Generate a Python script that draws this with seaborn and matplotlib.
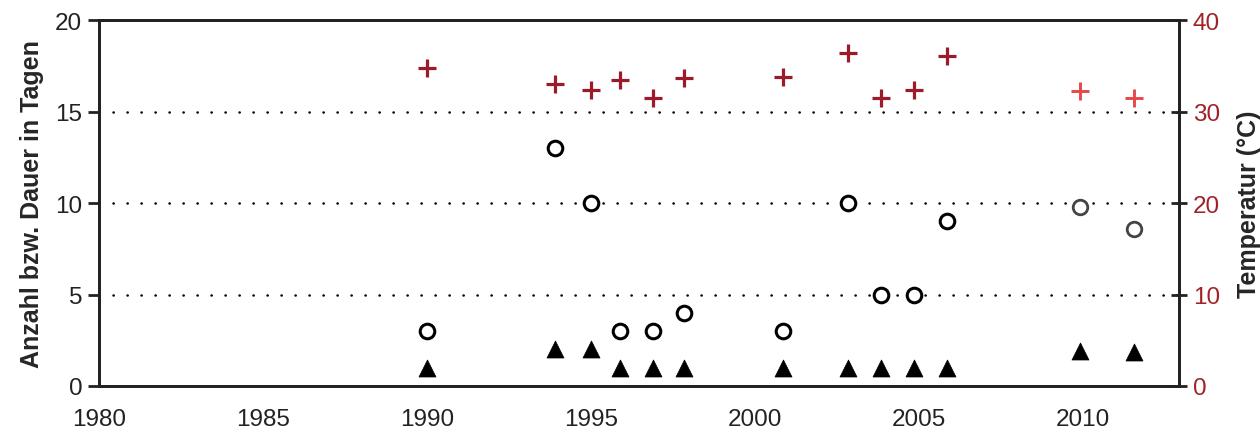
import pandas as pd
import matplotlib
matplotlib.use("Agg")
import matplotlib.pyplot as plt
import seaborn as sns

# Jahre (x-Positionen)
years = [1990, 1993.9, 1995, 1995.9, 1996.9, 1997.85, 2000.85, 2002.85, 2003.85, 2004.85, 2005.85, 2009.9, 2011.55]

# Temperatur (rechte Achse, °C)
temperatur = [34.8, 33.0, 32.4, 33.4, 31.5, 33.7, 33.8, 36.4, 31.5, 32.4, 36.1, 32.3, 31.5]
# Anzahl / Dauer in Tagen (linke Achse)
dauer = [3, 13, 10, 3, 3, 4, 3, 10, 5, 5, 9, 9.8, 8.6]
anzahl = [1, 2, 2, 1, 1, 1, 1, 1, 1, 1, 1, 1.9, 1.85]

# die letzten zwei Jahre sind im Original heller gezeichnet
n_old = 11

sns.set_style("white")
plt.rcParams['font.family'] = ['Liberation Sans', 'DejaVu Sans']

df = pd.DataFrame({'jahr': years, 'temp': temperatur, 'dauer': dauer, 'anzahl': anzahl})
df_old = df.iloc[:n_old]
df_new = df.iloc[n_old:]

fig = plt.figure(figsize=(12.6, 4.39), dpi=100)
ax = fig.add_axes([0.0786, 0.1185, 0.8571, 0.8335])
ax2 = ax.twinx()

# Hilfslinien (gepunktet)
for yv in [5, 10, 15]:
    ax.axhline(yv, color='black', linestyle=(0, (0.1, 5.5)), linewidth=1.8,
               dash_capstyle='round', zorder=1)

# Dauer: offene Kreise
sns.scatterplot(data=df_old, x='jahr', y='dauer', ax=ax, marker='o', s=110,
                facecolor='white', edgecolor='black', linewidth=2.2, zorder=3)
sns.scatterplot(data=df_new, x='jahr', y='dauer', ax=ax, marker='o', s=110,
                facecolor='white', edgecolor='#444444', linewidth=2.0, zorder=3)

# Anzahl: gefüllte Dreiecke
sns.scatterplot(data=df, x='jahr', y='anzahl', ax=ax, marker='^', s=150,
                color='black', edgecolor='black', linewidth=0.5, zorder=3)

# Temperatur: rote Kreuze auf rechter Achse
sns.scatterplot(data=df_old, x='jahr', y='temp', ax=ax2, marker='+', s=150,
                color='#9b1b2b', linewidth=2.3, zorder=3)
sns.scatterplot(data=df_new, x='jahr', y='temp', ax=ax2, marker='+', s=150,
                color='#e8474a', linewidth=2.1, zorder=3)

ax.set_xlim(1980, 2012.93)
ax.set_ylim(0, 20)
ax2.set_ylim(0, 40)

ax.set_xticks([1980, 1985, 1990, 1995, 2000, 2005, 2010])
ax.set_yticks([0, 5, 10, 15, 20])
ax2.set_yticks([0, 10, 20, 30, 40])

ax.set_xlabel('')
ax.set_ylabel('Anzahl bzw. Dauer in Tagen', fontsize=18, fontweight='bold', labelpad=8)
ax2.set_ylabel('Temperatur (°C)', fontsize=18, fontweight='bold', labelpad=12)

ax.tick_params(axis='x', direction='inout', length=12, width=2, labelsize=17.5, pad=10,
               colors='#222222')
ax.tick_params(axis='y', direction='out', length=8, width=2, labelsize=17.5, pad=4,
               colors='#222222')
ax2.tick_params(axis='y', direction='inout', length=12, width=2, labelsize=17.5, pad=4,
                colors='#222222', labelcolor='#a12226')

for a in (ax, ax2):
    for sp in a.spines.values():
        sp.set_linewidth(2)
        sp.set_color('#222222')

fig.savefig('out.png', dpi=100)
